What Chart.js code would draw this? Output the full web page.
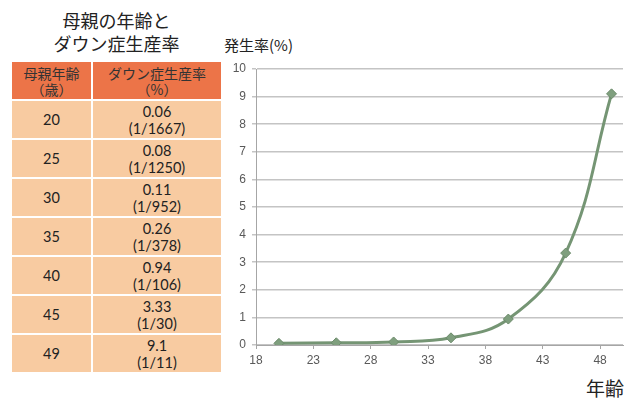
<!DOCTYPE html>
<html>
<head>
<meta charset="utf-8">
<script src="https://cdn.jsdelivr.net/npm/chart.js@4/dist/chart.umd.min.js"></script>
<style>
  body { margin: 0; background: #fff; width: 640px; height: 409px; position: relative; overflow: hidden; }
  .title { position: absolute; left: 10px; top: 9px; width: 213px; text-align: center;
           font-family: "Noto Sans CJK JP", sans-serif; font-size: 18px; line-height: 23px; color: #222; }
  table { position: absolute; left: 10px; top: 60px; border-collapse: collapse; width: 213px;
          font-family: Lato, "Noto Sans CJK JP", sans-serif; font-size: 14.5px; color: #222; }
  td { border: 2px solid #fff; text-align: center; padding: 0; line-height: 17px; }
  tr { height: 39px; }
  thead td { background: #ec7448; font-family: "Noto Sans CJK JP", sans-serif; font-size: 14px; line-height: 16px; color: #333; }
  tbody td { background: #f8cba1; }
  .ylab { position: absolute; left: 224px; top: 34px; font-family: "Noto Sans CJK JP", sans-serif; font-size: 15px; color: #222; }
  .xlab { position: absolute; left: 586px; top: 374px; font-family: "Noto Sans CJK JP", sans-serif; font-size: 19px; color: #222; }
  #wrap { position: absolute; left: 220px; top: 50px; width: 420px; height: 340px; }
</style>
</head>
<body>
<div class="title">母親の年齢と<br>ダウン症生産率</div>
<table id="rates">
  <thead><tr><td style="width:79px">母親年齢<br>（歳）</td><td>ダウン症生産率<br>（%）</td></tr></thead>
  <tbody></tbody>
</table>
<div class="ylab">発生率(%)</div>
<div class="xlab">年齢</div>
<div id="wrap"><canvas id="chart"></canvas></div>
<script>
// Data
const ages = [20, 25, 30, 35, 40, 45, 49];
const rates = [0.06, 0.08, 0.11, 0.26, 0.94, 3.33, 9.1];
const rateLabels = ["0.06", "0.08", "0.11", "0.26", "0.94", "3.33", "9.1"];
const fractions = ["1/1667", "1/1250", "1/952", "1/378", "1/106", "1/30", "1/11"];
const xTicks = [18, 23, 28, 33, 38, 43, 48];
const yTicks = [0, 1, 2, 3, 4, 5, 6, 7, 8, 9, 10];

// Table on the left
function generateTable() {
    const body = document.querySelector("#rates tbody");
    ages.forEach((age, i) => {
        const row = body.insertRow();
        const cAge = row.insertCell(0);
        const cRate = row.insertCell(1);
        cAge.textContent = age;
        cRate.innerHTML = rateLabels[i] + "<br>(" + fractions[i] + ")";
    });
}

// Line chart on the right
function generateLineChart() {
    const ctx = document.getElementById("chart").getContext("2d");
    new Chart(ctx, {
        type: 'line',
        data: {
            datasets: [{
                data: ages.map((a, i) => ({ x: a, y: rates[i] })),
                borderColor: '#759574',
                borderWidth: 3,
                tension: 0.4,
                pointStyle: 'rectRot',
                pointRadius: 5,
                pointBackgroundColor: '#7f9f7e',
                pointBorderColor: '#6b8a6a',
                pointBorderWidth: 1
            }]
        },
        options: {
            responsive: true,
            maintainAspectRatio: false,
            animation: false,
            layout: { padding: { left: 0, right: 17, top: 19, bottom: 15 } },
            plugins: { legend: { display: false }, tooltip: { enabled: false } },
            scales: {
                x: {
                    type: 'linear',
                    min: 18,
                    max: 50,
                    afterBuildTicks: s => { s.ticks = xTicks.map(v => ({ value: v })); },
                    afterFit: s => { s.height = 30; },
                    grid: { drawOnChartArea: false, drawTicks: true, tickLength: 4, color: '#a6a6a6' },
                    border: { color: '#a6a6a6' },
                    ticks: { color: '#595959', padding: 4, maxRotation: 0,
                             font: { family: 'Liberation Sans', size: 12 } }
                },
                y: {
                    min: 0,
                    max: 10,
                    afterBuildTicks: s => { s.ticks = yTicks.map(v => ({ value: v })); },
                    afterFit: s => { s.width = 36; },
                    grid: { color: '#c4c4c4', tickLength: 4, lineWidth: 1.5 },
                    border: { color: '#a6a6a6' },
                    ticks: { color: '#595959', padding: 6,
                             font: { family: 'Liberation Sans', size: 12 } }
                }
            }
        }
    });
}

generateTable();
generateLineChart();
</script>
</body>
</html>
